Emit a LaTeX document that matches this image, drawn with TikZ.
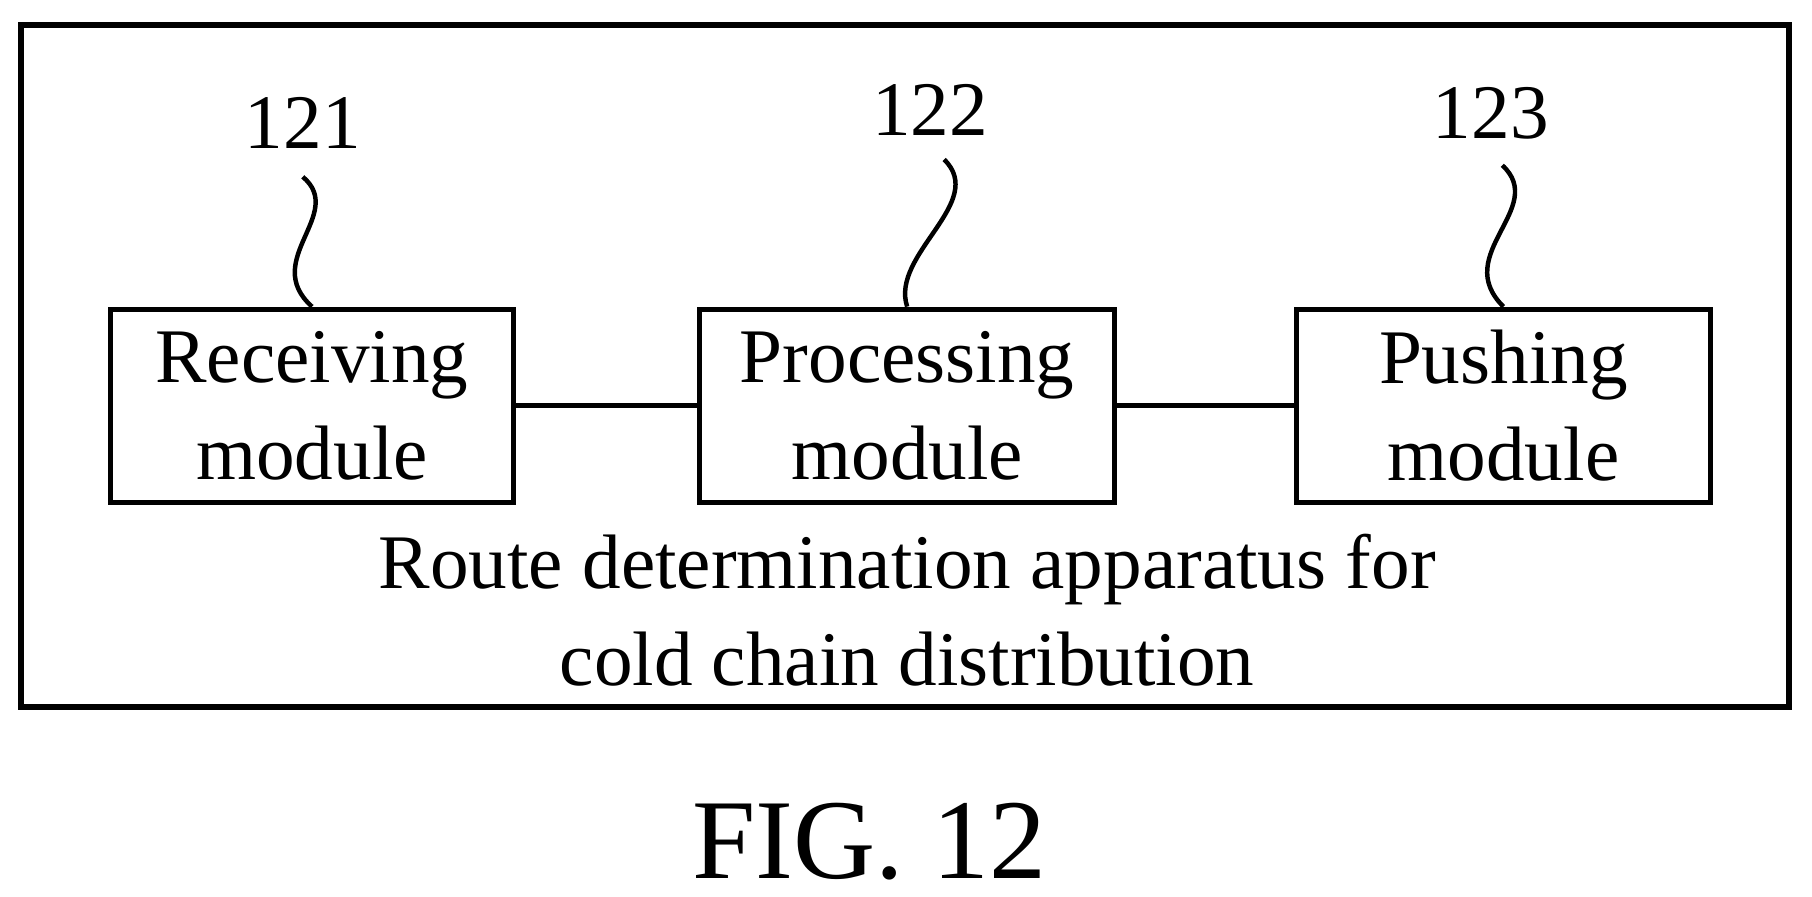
\documentclass[tikz,border=0pt]{standalone}
\usepackage{fontspec}
\setmainfont{Liberation Serif}
\begin{document}
\begin{tikzpicture}[x=0.01cm,y=-0.01cm,
  mod/.style={draw,line width=1.2pt,minimum height=1.67cm,align=center,font=\fontsize{19}{24}\selectfont},
  lab/.style={font=\fontsize{19}{20}\selectfont,inner sep=0pt},
  sq/.style={line width=1.1pt}]
\useasboundingbox (0,0) rectangle (1568,776);
\draw[line width=1.5pt] (18,22) rectangle (1548,612);
\node[mod,minimum width=3.49cm] (r) at (270,351) {Receiving\\module};
\node[mod,minimum width=3.59cm] (p) at (785,351) {Processing\\module};
\node[mod,minimum width=3.58cm] (u) at (1301,351) {Pushing\\module};
\draw[line width=1.2pt] (r) -- (p);
\draw[line width=1.2pt] (p) -- (u);
\node[lab] (l1) at (262,106) {121};
\node[lab] (l2) at (805,95) {122};
\node[lab] (l3) at (1290,98) {123};
\coordinate (c1) at (262,153); \coordinate (c2) at (817,138); \coordinate (c3) at (1300,143);
\draw[sq] (c1) .. controls (300,185) and (225,225) .. (r.north);
\draw[sq] (c2) .. controls (855,175) and (770,220) .. (p.north);
\draw[sq] (c3) .. controls (1340,180) and (1255,220) .. (u.north);
\node[font=\fontsize{19}{24}\selectfont,align=center,inner sep=0pt] (t) at (785,528) {Route determination apparatus for\\cold chain distribution};
\node[font=\fontsize{28}{30}\selectfont,inner sep=0pt] (f) at (752,728) {FIG. 12};
\end{tikzpicture}
\end{document}
